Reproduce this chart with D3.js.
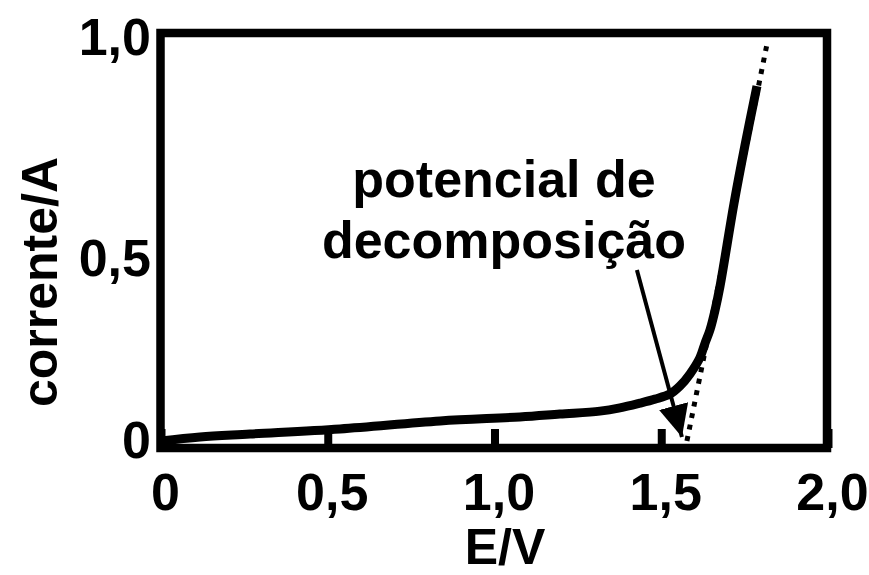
<!DOCTYPE html>
<html>
<head>
<meta charset="utf-8">
<script src="https://cdn.jsdelivr.net/npm/d3@7/dist/d3.min.js"></script>
<style>
  html, body { margin: 0; padding: 0; background: #fff; }
  svg { display: block; }
  text { font-family: "Liberation Sans", Arial, sans-serif; font-weight: bold; fill: #000; }
</style>
</head>
<body>
<svg id="chart" width="869" height="575"></svg>
<script>
// ---- data ----
const potential = [0, 0.117, 0.267, 0.537, 0.837, 1.076, 1.196, 1.316, 1.376, 1.436, 1.481, 1.526, 1.556, 1.586, 1.616, 1.631, 1.646, 1.661, 1.676, 1.718, 1.751, 1.787];
const current   = [0, 0.011, 0.019, 0.033, 0.055, 0.066, 0.074, 0.082, 0.091, 0.104, 0.115, 0.129, 0.151, 0.184, 0.229, 0.268, 0.305, 0.358, 0.424, 0.625, 0.757, 0.891];
const tangentE = [1.577, 1.817];
const tangentI = [0, 0.986];
const arrowE = [1.427, 1.562];
const arrowI = [0.470, 0.011];
const xTickValues = [0, 0.5, 1.0, 1.5, 2.0];
const xTickLabels = ["0", "0,5", "1,0", "1,5", "2,0"];
const yTickValues = [0, 0.5, 1.0];
const yTickLabels = ["0", "0,5", "1,0"];
const annotationLines = ["potencial de", "decomposição"];
const xTitle = "E/V";
const yTitle = "corrente/A";

// ---- layout ----
const svg = d3.select("#chart");
const frameTop = 33, frameBottom = 448;
const x = d3.scaleLinear().domain([0, 2]).range([161, 828]);
const y = d3.scaleLinear().domain([0, 0.5, 1]).range([441, 259, 38]);

// tangent (dotted)
svg.append("path")
  .datum(tangentE.map((e, i) => [e, tangentI[i]]))
  .attr("d", d3.line().x(d => x(d[0])).y(d => y(d[1])))
  .attr("fill", "none").attr("stroke", "#000")
  .attr("stroke-width", 5).attr("stroke-dasharray", "5,6.7");

// curve
svg.append("path")
  .datum(potential.map((e, i) => [e, current[i]]))
  .attr("d", d3.line().x(d => x(d[0])).y(d => y(d[1])).curve(d3.curveCatmullRom.alpha(0.5)))
  .attr("fill", "none").attr("stroke", "#000")
  .attr("stroke-width", 9).attr("stroke-linecap", "butt");

// arrow
const defs = svg.append("defs");
defs.append("marker").attr("id", "ah")
  .attr("markerUnits", "userSpaceOnUse")
  .attr("markerWidth", 34).attr("markerHeight", 32)
  .attr("refX", 32).attr("refY", 15).attr("orient", "auto")
  .append("path").attr("d", "M0,0 L32,15 L0,30 Z").attr("fill", "#000");
svg.append("line")
  .attr("x1", x(arrowE[0])).attr("y1", y(arrowI[0]))
  .attr("x2", x(arrowE[1])).attr("y2", y(arrowI[1]))
  .attr("stroke", "#000").attr("stroke-width", 4)
  .attr("marker-end", "url(#ah)");

// frame
svg.append("rect")
  .attr("x", x(0) - 0.5).attr("y", frameTop)
  .attr("width", x(2) - x(0) - 0.5).attr("height", frameBottom - frameTop)
  .attr("fill", "none").attr("stroke", "#000").attr("stroke-width", 8.5);

// bottom axis
const xAxis = svg.append("g")
  .attr("transform", `translate(0,${frameBottom})`)
  .call(d3.axisBottom(x).tickValues(xTickValues)
    .tickFormat((d, i) => xTickLabels[i]).tickSize(-19).tickPadding(25));
xAxis.select(".domain").remove();
xAxis.selectAll(".tick line").attr("stroke", "#000").attr("stroke-width", 8);
xAxis.selectAll(".tick text").attr("font-size", 52).attr("dx", 4)
  .style("font-family", "'Liberation Sans', Arial, sans-serif").style("font-weight", "bold");

// left axis
const yAxis = svg.append("g")
  .attr("transform", `translate(${x(0)},0)`)
  .call(d3.axisLeft(y).tickValues(yTickValues)
    .tickFormat((d, i) => yTickLabels[i]).tickSize(0).tickPadding(10));
yAxis.select(".domain").remove();
yAxis.selectAll(".tick text").attr("font-size", 52)
  .style("font-family", "'Liberation Sans', Arial, sans-serif").style("font-weight", "bold");

// titles
svg.append("text").attr("x", 505).attr("y", 564)
  .attr("text-anchor", "middle").attr("font-size", 50).text(xTitle);
svg.append("text").attr("transform", "translate(57,282) rotate(-90)")
  .attr("text-anchor", "middle").attr("font-size", 50).text(yTitle);

// annotation
svg.selectAll(".ann").data(annotationLines).enter().append("text")
  .attr("class", "ann")
  .attr("x", 504).attr("y", (d, i) => 197 + i * 61)
  .attr("text-anchor", "middle").attr("font-size", 52).text(d => d);
</script>
</body>
</html>
